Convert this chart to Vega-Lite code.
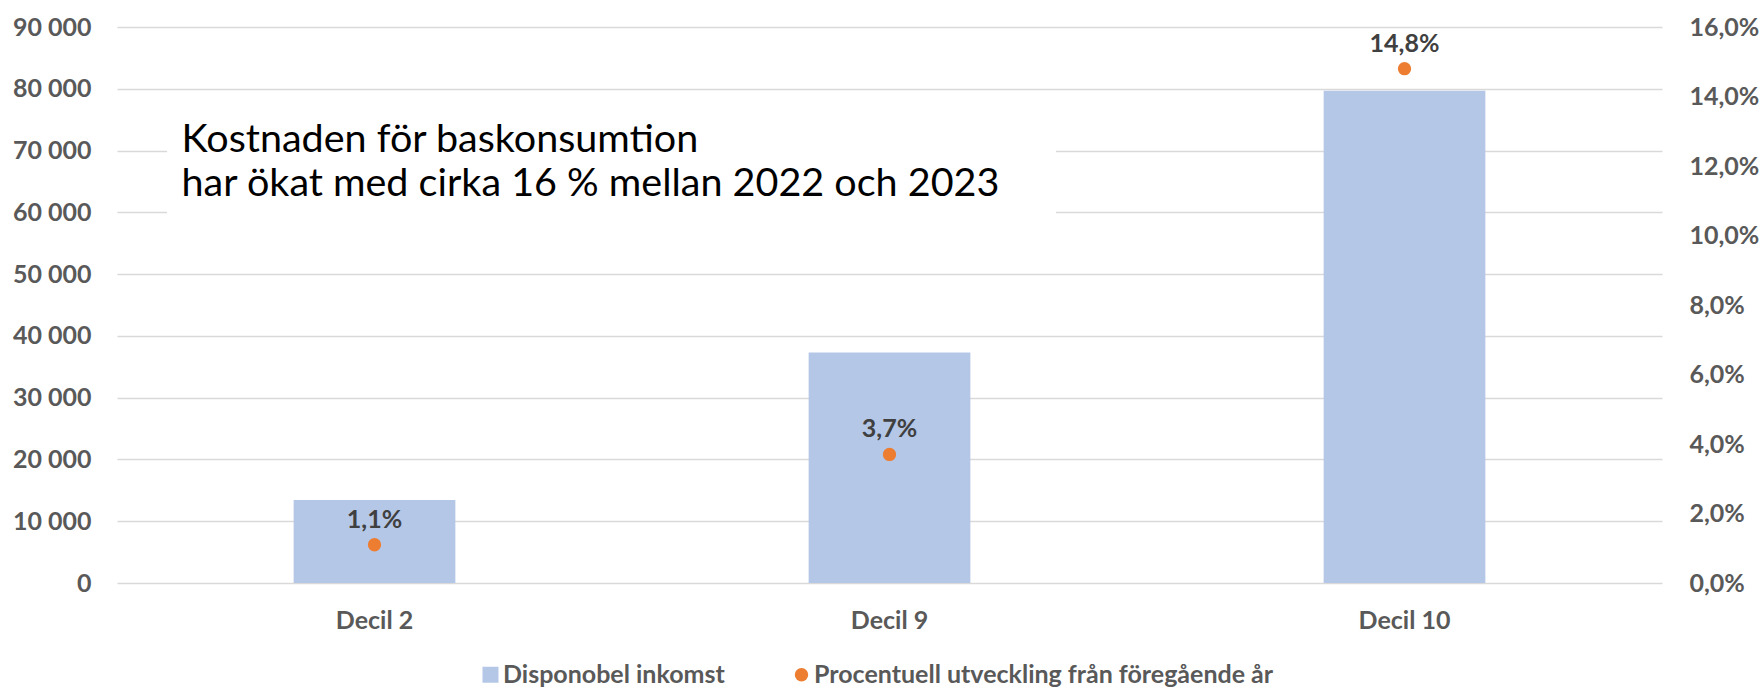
{
  "$schema": "https://vega.github.io/schema/vega-lite/v6.json",
  "width": 1545,
  "height": 556,
  "autosize": {"type": "none"},
  "padding": {"left": 117, "top": 27, "right": 99, "bottom": 105},
  "background": "white",
  "config": {
    "locale": {"number": {"decimal": ",", "thousands": " ", "grouping": [3], "currency": ["", " kr"]}},
    "view": {"stroke": null},
    "font": "Lato",
    "axis": {
      "labelFont": "Lato",
      "labelFontWeight": "bold",
      "labelFontSize": 25,
      "labelColor": "#595959",
      "ticks": false,
      "tickSize": 0,
      "domain": false,
      "title": null,
      "gridColor": "#D9D9D9",
      "gridWidth": 1.3
    }
  },
  "data": {
    "values": [
      {"decil": "Decil 2", "inkomst": 13450, "pct": 0.011},
      {"decil": "Decil 9", "inkomst": 37300, "pct": 0.037},
      {"decil": "Decil 10", "inkomst": 79700, "pct": 0.148}
    ]
  },
  "encoding": {
    "x": {
      "field": "decil",
      "type": "nominal",
      "scale": {"domain": ["Decil 2", "Decil 9", "Decil 10"], "paddingInner": 0.686, "paddingOuter": 0.343},
      "axis": {"labelAngle": 0, "labelPadding": 25, "grid": false}
    }
  },
  "layer": [
    {
      "layer": [
        {
          "mark": {"type": "bar"},
          "encoding": {
            "y": {
              "field": "inkomst",
              "type": "quantitative",
              "scale": {"domain": [0, 90000], "nice": false, "zero": true},
              "axis": {
                "orient": "left",
                "values": [0, 10000, 20000, 30000, 40000, 50000, 60000, 70000, 80000, 90000],
                "format": ",d",
                "labelPadding": 26,
                "grid": true
              }
            },
            "color": {
              "datum": "Disponobel inkomst",
              "scale": {
                "domain": ["Disponobel inkomst", "Procentuell utveckling från föregående år"],
                "range": ["#B4C7E7", "#ED7D31"]
              },
              "legend": {
                "orient": "none",
                "legendX": 361,
                "legendY": 635,
                "direction": "horizontal",
                "columns": 2,
                "title": null,
                "labelFont": "Lato",
                "labelFontSize": 25,
                "labelFontWeight": "bold",
                "labelColor": "#595959",
                "labelLimit": 800,
                "symbolSize": 256,
                "labelOffset": 0,
                "columnPadding": 64,
                "padding": 0,
                "symbolStrokeWidth": 0,
                "symbolOpacity": 1,
                "encode": {
                  "symbols": {
                    "update": {
                      "shape": {"signal": "datum.value === 'Disponobel inkomst' ? 'square' : 'circle'"},
                      "size": {"signal": "datum.value === 'Disponobel inkomst' ? 256 : 180"}
                    }
                  }
                }
              }
            }
          }
        },
        {
          "data": {"values": [{"label": "Kostnaden för baskonsumtion\nhar ökat med cirka 16 % mellan 2022 och 2023"}]},
          "mark": {"type": "rect", "color": "white"},
          "encoding": {
            "x": {"datum": "Decil 2", "bandPosition": -0.783},
            "x2": {"datum": "Decil 9", "bandPosition": 1.53},
            "y": {"datum": 78000, "type": "quantitative"},
            "y2": {"datum": 55000}
          }
        },
        {
          "data": {"values": [{"label": "Kostnaden för baskonsumtion\nhar ökat med cirka 16 % mellan 2022 och 2023"}]},
          "mark": {
            "type": "text",
            "align": "left",
            "baseline": "alphabetic",
            "font": "Lato",
            "fontSize": 39.5,
            "fontWeight": "normal",
            "color": "#000000",
            "lineBreak": "\n",
            "lineHeight": 44
          },
          "encoding": {
            "x": {"datum": "Decil 2", "bandPosition": -0.693},
            "y": {"datum": 69800, "type": "quantitative"},
            "text": {"field": "label"}
          }
        }
      ]
    },
    {
      "layer": [
        {
          "mark": {"type": "point", "filled": true, "size": 177, "opacity": 1, "strokeWidth": 0},
          "encoding": {
            "y": {
              "field": "pct",
              "type": "quantitative",
              "scale": {"domain": [0, 0.16], "nice": false},
              "axis": {
                "orient": "right",
                "values": [0, 0.02, 0.04, 0.06, 0.08, 0.1, 0.12, 0.14, 0.16],
                "format": ".1%",
                "labelPadding": 27,
                "grid": false
              }
            },
            "color": {"datum": "Procentuell utveckling från föregående år"}
          }
        },
        {
          "mark": {
            "type": "text",
            "baseline": "alphabetic",
            "align": "center",
            "dy": -17,
            "font": "Lato",
            "fontSize": 25,
            "fontWeight": "bold",
            "color": "#404040"
          },
          "encoding": {
            "y": {"field": "pct", "type": "quantitative"},
            "text": {"field": "pct", "type": "quantitative", "format": ".1%"}
          }
        }
      ]
    }
  ],
  "resolve": {"scale": {"y": "independent"}}
}
